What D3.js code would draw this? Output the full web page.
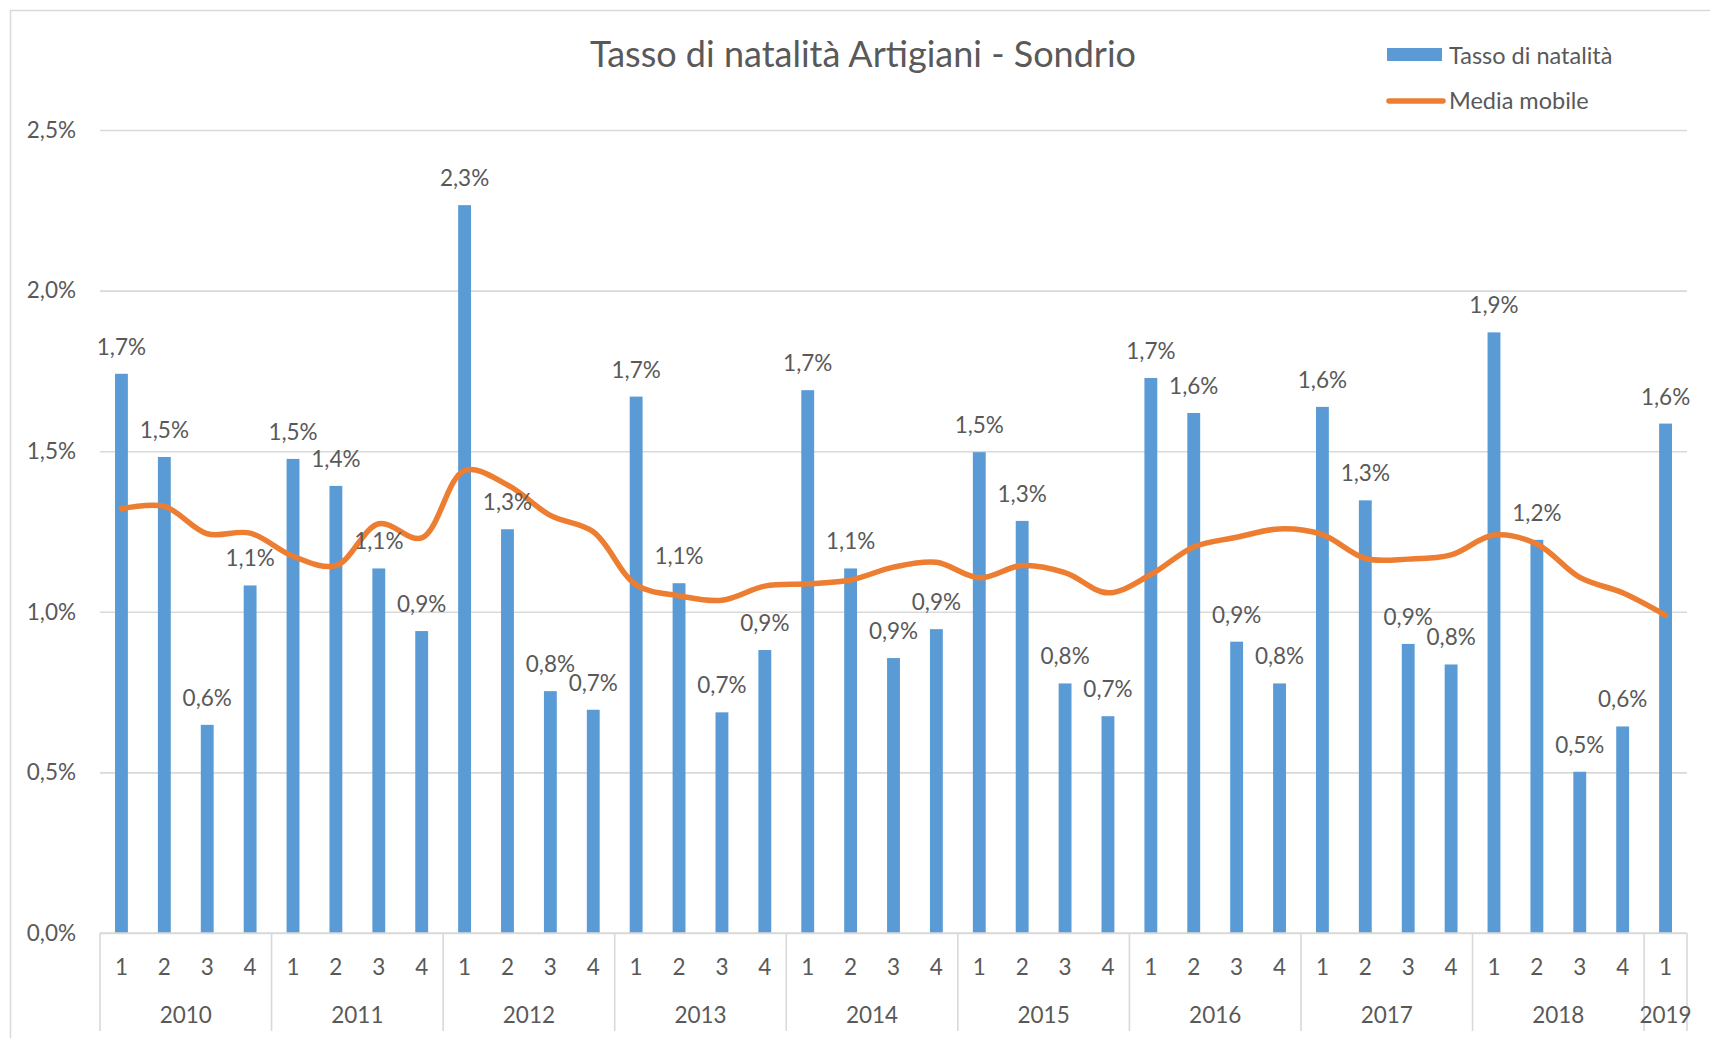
<!DOCTYPE html>
<html>
<head>
<meta charset="utf-8">
<script src="https://cdn.jsdelivr.net/npm/d3@7"></script>
<style>
  html, body { margin: 0; padding: 0; background: #ffffff; overflow: hidden; }
  svg { display: block; }
  text { font-family: Lato, "Open Sans", sans-serif; fill: #595959; }
</style>
</head>
<body>
<svg id="chart" width="1710" height="1038"></svg>
<script>
// Quarterly birth rate of artisan firms (percent), Sondrio province
const years = ["2010", "2011", "2012", "2013", "2014", "2015", "2016", "2017", "2018", "2019"];
const quartersPerYear = [4, 4, 4, 4, 4, 4, 4, 4, 4, 1];
const quarterLabels = ["1", "2", "3", "4"];

const birthRate = [
  1.741, 1.482, 0.648, 1.082,
  1.476, 1.392, 1.135, 0.940,
  2.266, 1.257, 0.753, 0.695,
  1.670, 1.089, 0.687, 0.881,
  1.690, 1.135, 0.856, 0.946,
  1.497, 1.283, 0.777, 0.675,
  1.728, 1.619, 0.907, 0.777,
  1.638, 1.347, 0.900, 0.836,
  1.870, 1.224, 0.502, 0.643,
  1.586
];

const movingAvg = [
  1.321, 1.328, 1.243, 1.245,
  1.173, 1.144, 1.274, 1.230,
  1.440, 1.395, 1.300, 1.249,
  1.084, 1.050, 1.036, 1.080,
  1.087, 1.099, 1.139, 1.154,
  1.106, 1.144, 1.122, 1.059,
  1.116, 1.202, 1.232, 1.258,
  1.240, 1.166, 1.164, 1.177,
  1.239, 1.211, 1.107, 1.059,
  0.989
];

const yTicks = [0, 0.5, 1.0, 1.5, 2.0, 2.5];

const title = "Tasso di natalità Artigiani - Sondrio";
const seriesNames = ["Tasso di natalità", "Media mobile"];

// Category list: one entry per (year, quarter)
const categories = [];
years.forEach((yr, yi) => {
  for (let q = 0; q < quartersPerYear[yi]; q++) {
    categories.push({ year: yr, quarter: quarterLabels[q], idx: categories.length });
  }
});

const colors = { bar: "#5B9BD5", line: "#ED7D31", grid: "#D9D9D9", text: "#595959" };

const itLocale = d3.formatLocale({ decimal: ",", thousands: ".", grouping: [3], currency: ["€", ""] });
const fmt1 = itLocale.format(".1f");
const pct = v => fmt1(v) + "%";

const plot = { left: 100, right: 1687, top: 130, bottom: 933 };
const numFont = 22.5;

const svg = d3.select("#chart");

// Chart frame
svg.append("rect")
  .attr("x", 10.5).attr("y", 10.5)
  .attr("width", 1730).attr("height", 1060)
  .attr("fill", "none").attr("stroke", colors.grid).attr("stroke-width", 1.5);

const x = d3.scaleBand()
  .domain(categories.map(d => d.idx))
  .range([plot.left, plot.right])
  .paddingInner(0.7).paddingOuter(0.35);

const xCat = d3.scaleBand()
  .domain(categories.map(d => d.idx))
  .range([plot.left, plot.right])
  .padding(0);

const y = d3.scaleLinear().domain([0, 2.5]).range([plot.bottom, plot.top]);

// Gridlines and value axis
const yAxis = svg.append("g")
  .attr("transform", `translate(${plot.left},0)`)
  .call(d3.axisLeft(y).tickValues(yTicks).tickSize(-(plot.right - plot.left)).tickPadding(24).tickFormat(pct));
yAxis.select(".domain").remove();
yAxis.selectAll(".tick line").attr("stroke", colors.grid).attr("stroke-width", 1.6);
yAxis.selectAll(".tick text")
  .attr("font-size", numFont).attr("fill", colors.text)
  .style("font-family", "Lato, 'Open Sans', sans-serif");

// Bars
svg.append("g").selectAll("rect")
  .data(categories)
  .join("rect")
  .attr("x", d => x(d.idx))
  .attr("width", x.bandwidth())
  .attr("y", d => y(birthRate[d.idx]))
  .attr("height", d => y(0) - y(birthRate[d.idx]))
  .attr("fill", colors.bar);

// Moving average (smoothed)
const line = d3.line()
  .x((d, i) => xCat(i) + xCat.bandwidth() / 2)
  .y(d => y(d))
  .curve(d3.curveCatmullRom.alpha(0.5));

svg.append("path")
  .datum(movingAvg)
  .attr("d", line)
  .attr("fill", "none")
  .attr("stroke", colors.line)
  .attr("stroke-width", 5.5)
  .attr("stroke-linecap", "round")
  .attr("stroke-linejoin", "round");

// Data labels
svg.append("g").selectAll("text")
  .data(categories)
  .join("text")
  .attr("x", d => x(d.idx) + x.bandwidth() / 2)
  .attr("y", d => y(birthRate[d.idx]) - 19)
  .attr("text-anchor", "middle")
  .attr("font-size", numFont)
  .text(d => pct(birthRate[d.idx]));

// Category axis: quarters and years with group separators
const axisG = svg.append("g");
axisG.append("line")
  .attr("x1", plot.left).attr("x2", plot.right)
  .attr("y1", plot.bottom).attr("y2", plot.bottom)
  .attr("stroke", colors.grid).attr("stroke-width", 1.6);

axisG.selectAll("text.q")
  .data(categories)
  .join("text")
  .attr("class", "q")
  .attr("x", d => xCat(d.idx) + xCat.bandwidth() / 2)
  .attr("y", 966)
  .attr("dominant-baseline", "central")
  .attr("text-anchor", "middle")
  .attr("font-size", numFont)
  .text(d => d.quarter);

// Year groups
let start = 0;
const groups = years.map((yr, yi) => {
  const g = { year: yr, first: start, last: start + quartersPerYear[yi] - 1 };
  start += quartersPerYear[yi];
  return g;
});

const boundaries = [xCat(0)].concat(groups.map(g => xCat(g.last) + xCat.bandwidth()));
axisG.selectAll("line.sep")
  .data(boundaries)
  .join("line")
  .attr("class", "sep")
  .attr("x1", d => d).attr("x2", d => d)
  .attr("y1", plot.bottom).attr("y2", 1031)
  .attr("stroke", colors.grid).attr("stroke-width", 1.6);

axisG.selectAll("text.yr")
  .data(groups)
  .join("text")
  .attr("class", "yr")
  .attr("x", g => (xCat(g.first) + xCat(g.last) + xCat.bandwidth()) / 2)
  .attr("y", 1014)
  .attr("dominant-baseline", "central")
  .attr("text-anchor", "middle")
  .attr("font-size", numFont)
  .text(g => g.year);

// Title
svg.append("text")
  .attr("x", 863).attr("y", 67)
  .attr("text-anchor", "middle")
  .attr("font-size", 36)
  .text(title);

// Legend
const legend = svg.append("g");
legend.append("rect")
  .attr("x", 1387).attr("y", 48).attr("width", 55).attr("height", 13)
  .attr("fill", colors.bar);
legend.append("text")
  .attr("x", 1449).attr("y", 54.5)
  .attr("dominant-baseline", "central")
  .attr("font-size", 23.5)
  .text(seriesNames[0]);
legend.append("line")
  .attr("x1", 1389).attr("x2", 1443).attr("y1", 101).attr("y2", 101)
  .attr("stroke", colors.line).attr("stroke-width", 5.5).attr("stroke-linecap", "round");
legend.append("text")
  .attr("x", 1449).attr("y", 100)
  .attr("dominant-baseline", "central")
  .attr("font-size", 23.5)
  .text(seriesNames[1]);
</script>
</body>
</html>
